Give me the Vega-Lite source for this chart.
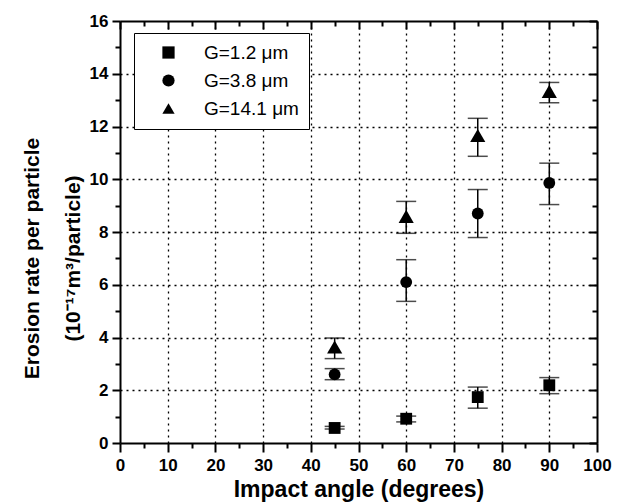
{
  "$schema": "https://vega.github.io/schema/vega-lite/v6.json",
  "width": 477,
  "height": 422,
  "autosize": "none",
  "padding": {"left": 120, "top": 21, "right": 25, "bottom": 61},
  "background": "white",
  "config": {"view": {"stroke": null}, "font": "Liberation Sans"},
  "data": {
    "values": [
      {"angle": 45, "rate": 0.57, "lo": 0.53, "hi": 0.63, "series": "G=1.2 μm"},
      {"angle": 60, "rate": 0.92, "lo": 0.8, "hi": 1.02, "series": "G=1.2 μm"},
      {"angle": 75, "rate": 1.74, "lo": 1.32, "hi": 2.12, "series": "G=1.2 μm"},
      {"angle": 90, "rate": 2.19, "lo": 1.87, "hi": 2.48, "series": "G=1.2 μm"},
      {"angle": 45, "rate": 2.6, "lo": 2.4, "hi": 2.82, "series": "G=3.8 μm"},
      {"angle": 60, "rate": 6.1, "lo": 5.37, "hi": 6.95, "series": "G=3.8 μm"},
      {"angle": 75, "rate": 8.7, "lo": 7.79, "hi": 9.61, "series": "G=3.8 μm"},
      {"angle": 90, "rate": 9.86, "lo": 9.04, "hi": 10.61, "series": "G=3.8 μm"},
      {"angle": 45, "rate": 3.64, "lo": 3.2, "hi": 3.98, "series": "G=14.1 μm"},
      {"angle": 60, "rate": 8.59, "lo": 7.95, "hi": 9.16, "series": "G=14.1 μm"},
      {"angle": 75, "rate": 11.66, "lo": 10.87, "hi": 12.31, "series": "G=14.1 μm"},
      {"angle": 90, "rate": 13.33, "lo": 12.9, "hi": 13.67, "series": "G=14.1 μm"}
    ]
  },
  "resolve": {"axis": {"x": "independent", "y": "independent"}},
  "layer": [
    {
      "mark": {"type": "point", "opacity": 0},
      "encoding": {
        "x": {
          "field": "angle", "type": "quantitative",
          "scale": {"domain": [0, 100], "nice": false},
          "axis": {
            "orient": "top", "title": null, "labels": false, "grid": false,
            "values": [0,5,10,15,20,25,30,35,40,45,50,55,60,65,70,75,80,85,90,95,100],
            "tickSize": {"condition": {"test": "datum.value % 10 === 0", "value": -8}, "value": -5},
            "tickWidth": 2, "tickColor": "black", "domainColor": "black", "domainWidth": 2
          }
        },
        "y": {
          "field": "rate", "type": "quantitative",
          "scale": {"domain": [0, 16], "nice": false},
          "axis": {
            "orient": "right", "title": null, "labels": false, "grid": false,
            "values": [0,1,2,3,4,5,6,7,8,9,10,11,12,13,14,15,16],
            "tickSize": {"condition": {"test": "datum.value % 2 === 0", "value": -8}, "value": -5},
            "tickWidth": 2, "tickColor": "black", "domainColor": "black", "domainWidth": 2
          }
        }
      }
    },
    {
      "mark": {"type": "rule", "color": "black", "strokeWidth": 1.5},
      "encoding": {
        "x": {
          "field": "angle", "type": "quantitative",
          "scale": {"domain": [0, 100], "nice": false},
          "axis": {
            "orient": "bottom",
            "values": [0,5,10,15,20,25,30,35,40,45,50,55,60,65,70,75,80,85,90,95,100],
            "labelExpr": "datum.value % 10 === 0 ? datum.label : ''",
            "labelOverlap": false, "labelFlush": false,
            "tickSize": {"condition": {"test": "datum.value % 10 === 0", "value": 9}, "value": 5},
            "tickWidth": 2, "tickColor": "black", "domainColor": "black", "domainWidth": 2,
            "labelFont": "Liberation Sans", "labelFontWeight": "bold", "labelFontSize": 17, "labelColor": "black", "labelPadding": 5,
            "grid": true, "gridColor": "black", "gridDash": [2, 4], "gridWidth": 1.3,
            "gridOpacity": {"condition": {"test": "datum.value % 10 === 0 && datum.value > 0 && datum.value < 100", "value": 1}, "value": 0},
            "title": "Impact angle (degrees)", "titleFont": "Liberation Sans", "titleFontSize": 23, "titleFontWeight": "bold", "titleColor": "black", "titlePadding": 5
          }
        },
        "y": {
          "field": "lo", "type": "quantitative",
          "scale": {"domain": [0, 16], "nice": false},
          "axis": {
            "orient": "left",
            "values": [0,1,2,3,4,5,6,7,8,9,10,11,12,13,14,15,16],
            "labelExpr": "datum.value % 2 === 0 ? datum.label : ''",
            "labelOverlap": false, "labelFlush": false,
            "tickSize": {"condition": {"test": "datum.value % 2 === 0", "value": 8}, "value": 5},
            "tickWidth": 2, "tickColor": "black", "domainColor": "black", "domainWidth": 2,
            "labelFont": "Liberation Sans", "labelFontWeight": "bold", "labelFontSize": 17, "labelColor": "black", "labelPadding": 4,
            "grid": true, "gridColor": "black", "gridDash": [2, 4], "gridWidth": 1.3,
            "gridOpacity": {"condition": {"test": "datum.value % 2 === 0 && datum.value > 0 && datum.value < 16", "value": 1}, "value": 0},
            "title": ["Erosion rate per particle", "(10⁻¹⁷m³/particle)"],
            "titleFont": "Liberation Sans", "titleFontSize": 21, "titleFontWeight": "bold", "titleColor": "black",
            "titleLineHeight": 41, "titlePadding": 6, "titleY": 237
          }
        },
        "y2": {"field": "hi"}
      }
    },
    {
      "mark": {"type": "tick", "orient": "horizontal", "color": "black", "size": 20, "thickness": 1.5},
      "encoding": {
        "x": {"field": "angle", "type": "quantitative", "axis": null},
        "y": {"field": "lo", "type": "quantitative", "axis": null}
      }
    },
    {
      "mark": {"type": "tick", "orient": "horizontal", "color": "black", "size": 20, "thickness": 1.5},
      "encoding": {
        "x": {"field": "angle", "type": "quantitative", "axis": null},
        "y": {"field": "hi", "type": "quantitative", "axis": null}
      }
    },
    {
      "transform": [{"filter": "datum.series !== 'G=14.1 μm'"}],
      "mark": {"type": "point", "filled": true, "color": "black", "opacity": 1, "size": 140},
      "encoding": {
        "x": {"field": "angle", "type": "quantitative", "axis": null},
        "y": {"field": "rate", "type": "quantitative", "axis": null},
        "shape": {
          "field": "series", "type": "nominal",
          "scale": {"domain": ["G=1.2 μm", "G=3.8 μm", "G=14.1 μm"], "range": ["square", "circle", "triangle-up"]},
          "legend": {
            "orient": "none", "legendX": 14, "legendY": 12, "title": null,
            "strokeColor": "black", "fillColor": "white", "padding": 10,
            "symbolOffset": 15, "symbolSize": 150, "symbolFillColor": "black", "symbolStrokeColor": "black",
            "labelFont": "Liberation Sans", "labelFontSize": 19, "labelColor": "black", "labelOffset": 26,
            "rowPadding": 8
          }
        }
      }
    },
    {
      "transform": [{"filter": "datum.series === 'G=14.1 μm'"}],
      "mark": {"type": "point", "filled": true, "color": "black", "opacity": 1, "size": 230},
      "encoding": {
        "x": {"field": "angle", "type": "quantitative", "axis": null},
        "y": {"field": "rate", "type": "quantitative", "axis": null},
        "shape": {"field": "series", "type": "nominal"}
      }
    }
  ]
}
